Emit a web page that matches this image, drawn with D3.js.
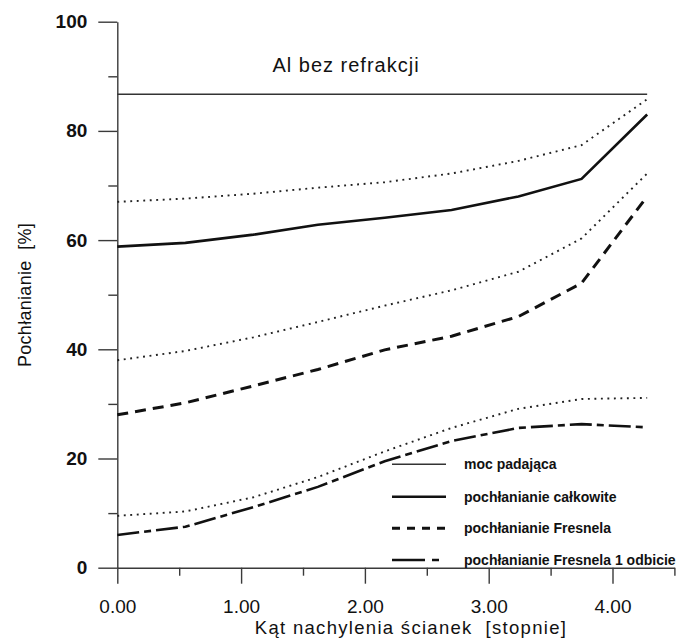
<!DOCTYPE html>
<html>
<head>
<meta charset="utf-8">
<script src="https://cdn.jsdelivr.net/npm/d3@7"></script>
<style>
  html, body { margin: 0; padding: 0; background: #fff; }
  svg { display: block; font-family: "Liberation Sans", Arial, sans-serif; }
  text { white-space: pre; }
</style>
</head>
<body>
<svg id="chart" width="685" height="639"></svg>
<script>
// Wall tilt angle [degrees]
const angles = [0, 0.55, 1.1, 1.62, 2.16, 2.7, 3.24, 3.75, 4.28];

// Absorption [%]
const incidentPower   = [86.7, 86.7, 86.7, 86.7, 86.7, 86.7, 86.7, 86.7, 86.7];
const totalAbs        = [58.8, 59.5, 61.0, 62.8, 64.1, 65.5, 68.0, 71.2, 83.0];
const totalAbsBound   = [67.0, 67.6, 68.5, 69.6, 70.6, 72.2, 74.5, 77.4, 85.8];
const fresnelAbs      = [28.0, 30.2, 33.3, 36.3, 39.9, 42.4, 46.0, 52.1, 68.0];
const fresnelAbsBound = [38.0, 39.7, 42.2, 45.0, 48.0, 50.8, 54.2, 60.3, 72.2];
const fresnel1Abs     = [6.0, 7.5, 11.1, 14.8, 19.5, 23.2, 25.6, 26.3, 25.7];
const fresnel1Bound   = [9.5, 10.3, 12.9, 16.6, 21.3, 25.6, 29.1, 30.9, 31.1];

const xMajorTicks = [0, 1, 2, 3, 4];
const xMinorTicks = [0.5, 1.5, 2.5, 3.5, 4.5];
const yMajorTicks = [0, 20, 40, 60, 80, 100];
const yMinorTicks = [10, 30, 50, 70, 90];

const legendLabels = ["moc padająca", "pochłanianie całkowite", "pochłanianie Fresnela", "pochłanianie Fresnela 1 odbicie"];

const svg = d3.select("#chart");
const x = d3.scaleLinear().domain([0, 4.5]).range([117.3, 674.4]);
const y = d3.scaleLinear().domain([0, 100]).range([567.7, 21.7]);

const axisColor = "#3a3a3a";

// ---- axes ----
const gy = svg.append("g").attr("transform", `translate(${x(0)},0)`);
gy.call(d3.axisLeft(y).tickValues(yMajorTicks).tickSize(19).tickSizeOuter(0).tickPadding(11)
  .tickFormat(d3.format("d")));
const gyMinor = svg.append("g").attr("transform", `translate(${x(0)},0)`);
gyMinor.call(d3.axisLeft(y).tickValues(yMinorTicks).tickSize(9).tickSizeOuter(0).tickFormat(""));
gyMinor.select(".domain").remove();

const gx = svg.append("g").attr("transform", `translate(0,${y(0)})`);
gx.call(d3.axisBottom(x).tickValues(xMajorTicks).tickSize(16).tickSizeOuter(0).tickPadding(16)
  .tickFormat(d3.format(".2f")));
const gxMinor = svg.append("g").attr("transform", `translate(0,${y(0)})`);
gxMinor.call(d3.axisBottom(x).tickValues(xMinorTicks).tickSize(8).tickSizeOuter(0).tickFormat(""));
gxMinor.select(".domain").remove();

svg.selectAll(".domain, .tick line").attr("stroke", axisColor).attr("stroke-width", 1.4);
svg.selectAll(".tick text").attr("fill", "#111").style("font-size", "19px")
  .style("font-family", "'Liberation Sans', Arial, sans-serif");
gy.selectAll(".tick text").style("font-weight", "bold");

// ---- axis titles & heading ----
svg.append("text").attr("x", 411).attr("y", 634).attr("text-anchor", "middle")
  .style("font-size", "18.5px").style("letter-spacing", "1.3px").attr("fill", "#111")
  .text("Kąt nachylenia ścianek  [stopnie]");
svg.append("text").attr("transform", "translate(31,295) rotate(-90)").attr("text-anchor", "middle")
  .style("font-size", "18px").style("letter-spacing", "0.3px").attr("fill", "#111")
  .text("Pochłanianie  [%]");
svg.append("text").attr("x", 346).attr("y", 72).attr("text-anchor", "middle")
  .style("font-size", "20px").style("letter-spacing", "1px").attr("fill", "#111")
  .text("Al bez refrakcji");

// ---- series ----
const line = d3.line().x((d, i) => x(angles[i])).y(d => y(d)).curve(d3.curveLinear);

const styles = {
  thin:    { w: 1.5, dash: null, color: "#333" },
  solid:   { w: 2.6, dash: null, color: "#111" },
  dotted:  { w: 1.9, dash: "1.9,4.6", color: "#222" },
  dashed:  { w: 3, dash: "11,7", color: "#111" },
  dashdot: { w: 2.6, dash: "22,5,7,5", color: "#111" }
};

const series = [
  { v: incidentPower, s: styles.thin },
  { v: totalAbsBound, s: styles.dotted },
  { v: totalAbs, s: styles.solid },
  { v: fresnelAbsBound, s: styles.dotted },
  { v: fresnelAbs, s: styles.dashed },
  { v: fresnel1Bound, s: styles.dotted },
  { v: fresnel1Abs, s: styles.dashdot }
];

svg.append("g").selectAll("path").data(series).join("path")
  .attr("d", d => line(d.v))
  .attr("fill", "none")
  .attr("stroke", d => d.s.color)
  .attr("stroke-width", d => d.s.w)
  .attr("stroke-dasharray", d => d.s.dash);

// ---- legend ----
const legendRows = [
  { s: styles.thin, dash: null },
  { s: styles.solid, dash: null },
  { s: styles.dashed, dash: "8,7" },
  { s: styles.dashdot, dash: "33,7,7,20" }
];
const lg = svg.append("g");
const rowY = [464.3, 496.7, 528.3, 560];
const rows = lg.selectAll("g").data(legendLabels).join("g")
  .attr("transform", (d, i) => `translate(0,${rowY[i]})`);
rows.append("line").attr("x1", 392).attr("x2", 446).attr("y1", 0).attr("y2", 0)
  .attr("stroke", (d, i) => legendRows[i].s.color)
  .attr("stroke-width", (d, i) => legendRows[i].s.w)
  .attr("stroke-dasharray", (d, i) => legendRows[i].dash);
rows.append("text").attr("x", 464).attr("y", 5).style("font-size", "14px")
  .style("font-weight", "bold").attr("fill", "#111").text(d => d);
</script>
</body>
</html>
